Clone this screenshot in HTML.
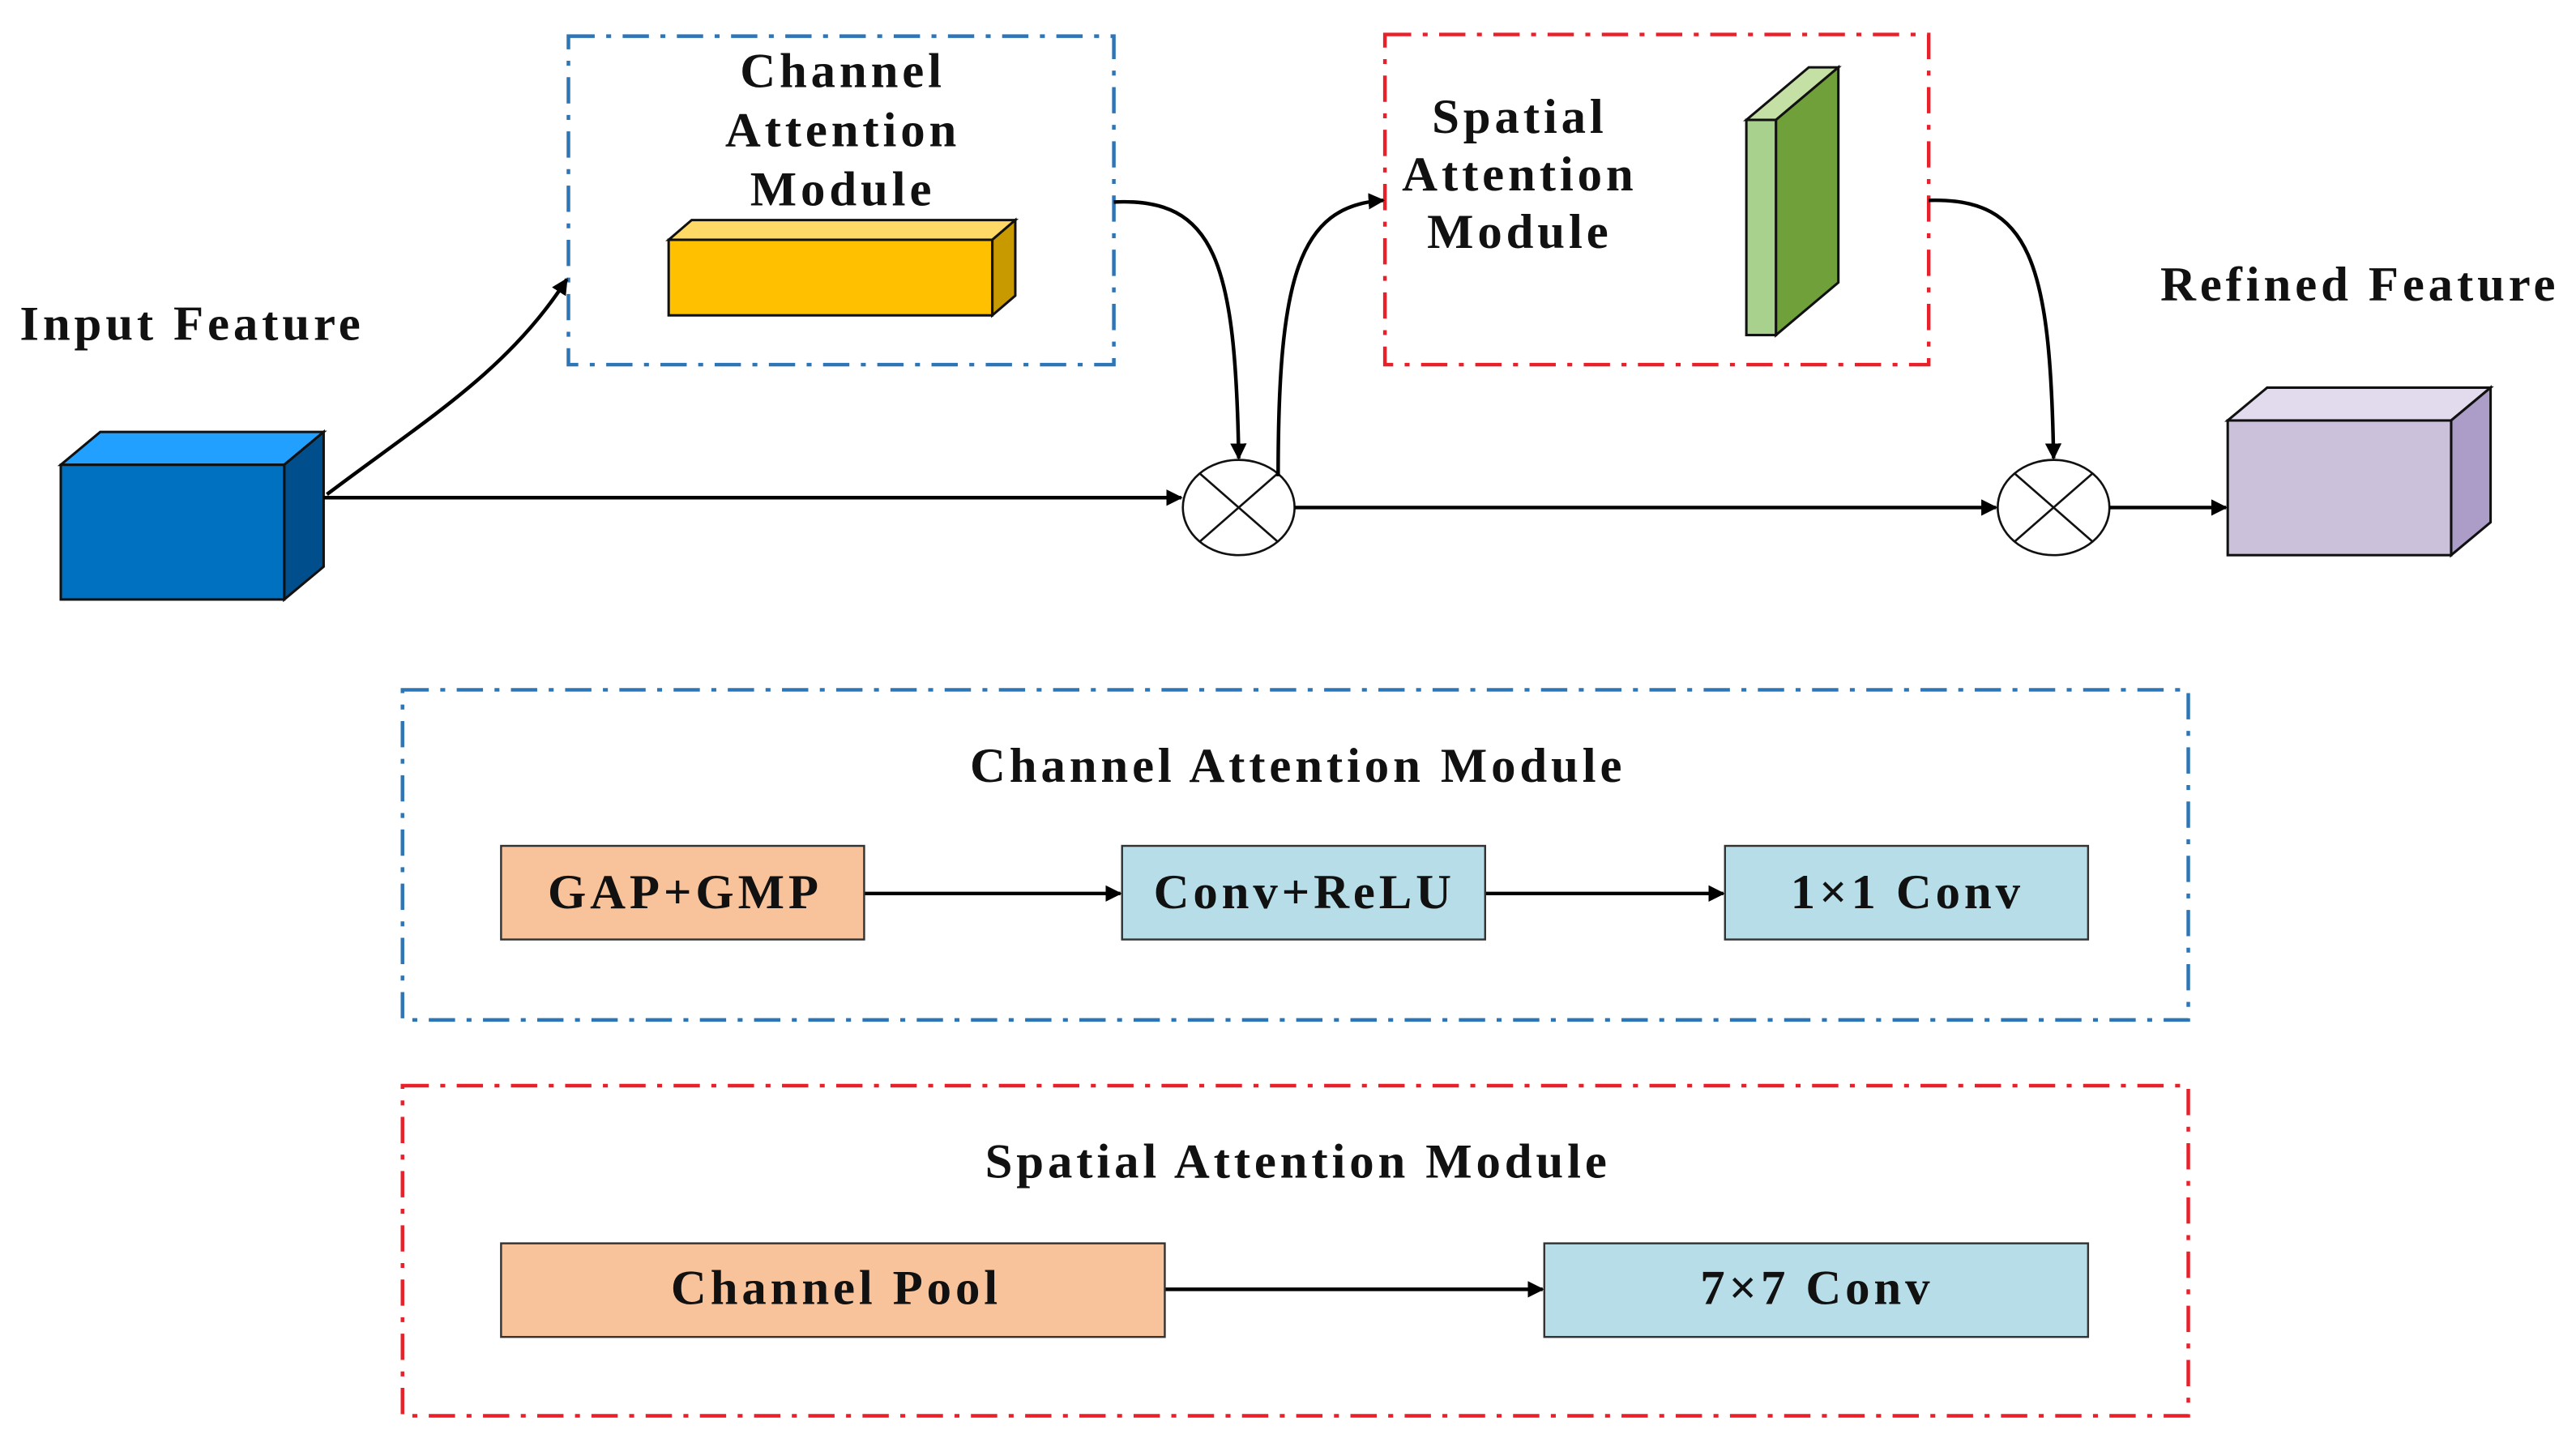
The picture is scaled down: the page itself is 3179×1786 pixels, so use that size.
<!DOCTYPE html>
<html><head><meta charset="utf-8"><style>
html,body{margin:0;padding:0;background:#fff;}
svg{display:block;}
text{font-family:"Liberation Serif",serif;font-weight:bold;fill:#111;letter-spacing:2.4px;}
</style></head><body>
<svg width="3179" height="1786" viewBox="0 0 1568 881" preserveAspectRatio="none" xmlns="http://www.w3.org/2000/svg">
<defs>
<marker id="a" markerWidth="10" markerHeight="10" refX="9" refY="5" orient="auto" markerUnits="userSpaceOnUse">
<path d="M0,0 L10,5 L0,10 Z" fill="#000"/></marker>
</defs>
<g fill="none" stroke-width="2.2" stroke-dasharray="16,7,3,7">
<rect x="346" y="22" width="332" height="200" stroke="#2e75b6"/>
<rect x="843" y="21" width="331" height="201" stroke="#e8202a"/>
<rect x="245" y="420" width="1087" height="201" stroke="#2e75b6"/>
<rect x="245" y="661" width="1087" height="201" stroke="#e8202a"/>
</g>
<g stroke="#111" stroke-width="1.5">
<polygon points="37,283 61,263 197,263 173,283" fill="#22a0ff"/>
<polygon points="173,283 197,263 197,345 173,365" fill="#004f8c"/>
<rect x="37" y="283" width="136" height="82" fill="#0070c0"/>
</g>
<g stroke="#111" stroke-width="1.5">
<polygon points="407,146 421,134 618,134 604,146" fill="#ffd966"/>
<polygon points="604,146 618,134 618,180 604,192" fill="#c99a00"/>
<rect x="407" y="146" width="197" height="46" fill="#ffc000"/>
</g>
<g stroke="#111" stroke-width="1.5">
<polygon points="1063,73 1101,41 1119,41 1081,73" fill="#c5e0a5"/>
<polygon points="1081,73 1119,41 1119,172 1081,204" fill="#70a03a"/>
<rect x="1063" y="73" width="18" height="131" fill="#a9d18e"/>
</g>
<g stroke="#111" stroke-width="1.5">
<polygon points="1356,256 1380,236 1516,236 1492,256" fill="#e2dbed"/>
<polygon points="1492,256 1516,236 1516,318 1492,338" fill="#ac9cc8"/>
<rect x="1356" y="256" width="136" height="82" fill="#ccc1da"/>
</g>
<g fill="#fff" stroke="#111" stroke-width="1.3">
<ellipse cx="754" cy="309" rx="34" ry="29"/>
<path d="M730,288 L778,330 M778,288 L730,330"/>
<ellipse cx="1250" cy="309" rx="34" ry="29"/>
<path d="M1226,288 L1274,330 M1274,288 L1226,330"/>
</g>
<g fill="none" stroke="#000" stroke-width="2.2">
<line x1="197" y1="303" x2="719" y2="303" marker-end="url(#a)"/>
<path d="M199,301 C260,255 310,225 345,170" marker-end="url(#a)"/>
<path d="M678,123 C740,120 752,160 754,279" marker-end="url(#a)"/>
<path d="M778,290 C778,170 790,125 842,122" marker-end="url(#a)"/>
<line x1="788" y1="309" x2="1215" y2="309" marker-end="url(#a)"/>
<path d="M1174,122 C1236,120 1248,160 1250,279" marker-end="url(#a)"/>
<line x1="1284" y1="309" x2="1355" y2="309" marker-end="url(#a)"/>
<line x1="526" y1="544" x2="682" y2="544" marker-end="url(#a)"/>
<line x1="904" y1="544" x2="1049" y2="544" marker-end="url(#a)"/>
<line x1="709" y1="785" x2="939" y2="785" marker-end="url(#a)"/>
</g>
<g stroke="#333" stroke-width="1.2">
<rect x="305" y="515" width="221" height="57" fill="#f8c39b"/>
<rect x="683" y="515" width="221" height="57" fill="#b7dee8"/>
<rect x="1050" y="515" width="221" height="57" fill="#b7dee8"/>
<rect x="305" y="757" width="404" height="57" fill="#f8c39b"/>
<rect x="940" y="757" width="331" height="57" fill="#b7dee8"/>
</g>
<g font-size="30">
<text x="12" y="207">Input Feature</text>
<text x="1315" y="183">Refined Feature</text>
<g text-anchor="middle">
<text x="513" y="53">Channel</text>
<text x="513" y="89">Attention</text>
<text x="513" y="125">Module</text>
<text x="925" y="81">Spatial</text>
<text x="925" y="116">Attention</text>
<text x="925" y="151">Module</text>
<text x="790" y="476">Channel Attention Module</text>
<text x="790" y="717">Spatial Attention Module</text>
<text x="417" y="553">GAP+GMP</text>
<text x="794" y="553">Conv+ReLU</text>
<text x="1161" y="553">1×1 Conv</text>
<text x="509" y="794">Channel Pool</text>
<text x="1106" y="794">7×7 Conv</text>
</g>
</g>
</svg>
</body></html>
